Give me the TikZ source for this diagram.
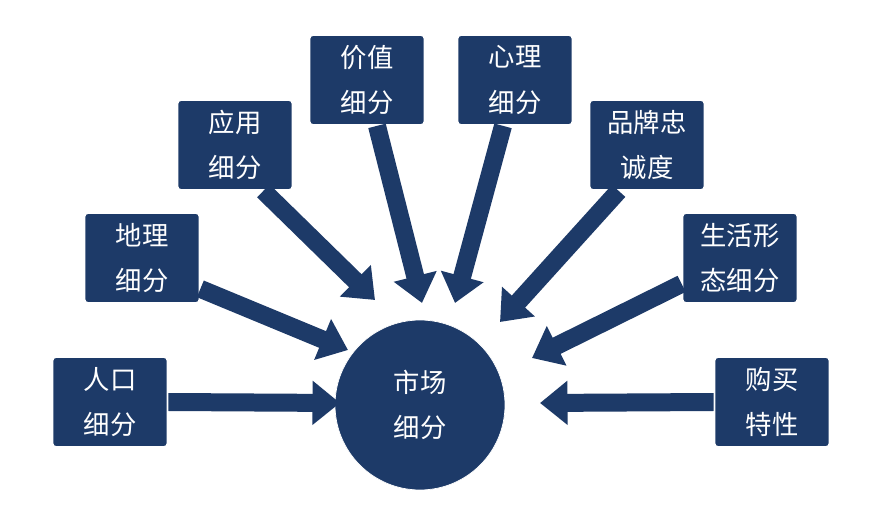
\documentclass[tikz,border=0pt]{standalone}
\usepackage{fontspec}
\newfontfamily\cjk{Noto Sans CJK SC}
\usetikzlibrary{arrows.meta}
\definecolor{navy}{HTML}{1D3A68}
\begin{document}
\begin{tikzpicture}
        [%%%%%%%%%%%%%%%%%%%%%%%%%%%%%%
        x=0.02cm, y=-0.02cm,
        box/.style={draw=white, line width=1pt, fill=navy, rounded corners=2pt,
          minimum width=2.3cm, minimum height=1.8cm, text=white, align=center,
          font=\cjk\fontsize{15}{26}\selectfont},
        hub/.style={circle, fill=navy, draw=white, minimum size=3.4cm, text=white,
          align=center, font=\cjk\fontsize{15}{26}\selectfont},
        fat/.style={draw=navy, line width=0.36cm, -{Triangle[width=0.85cm, length=0.55cm]}},
        ]%%%%%%%%%%%%%%%%%%%%%%%%%%%%%%
        \useasboundingbox[fill=white] (0,0) rectangle (882,506);
        % Centre
        \node[hub] (market) at (420,405) {市场\\细分};
        % Boxes
        \node[box] (people) at (110,402) {人口\\细分};
        \node[box] (geo) at (142,258) {地理\\细分};
        \node[box] (usage) at (235,145) {应用\\细分};
        \node[box] (value) at (367,80) {价值\\细分};
        \node[box] (mind) at (515,80) {心理\\细分};
        \node[box] (brand) at (647,145) {品牌忠\\诚度};
        \node[box] (life) at (740,258) {生活形\\态细分};
        \node[box] (buy) at (772,402) {购买\\特性};
        % Arrows
        \coordinate (tpeople) at (340,403);
        \coordinate (tgeo) at (348,350);
        \coordinate (tusage) at (375,300);
        \coordinate (tvalue) at (422,303);
        \coordinate (tmind) at (455,303);
        \coordinate (tbrand) at (500,322);
        \coordinate (tlife) at (532,358);
        \coordinate (tbuy) at (540,403);
        \draw[fat] (people.east) -- (tpeople);
        \draw[fat] (geo.south east) ++(0,-15) -- (tgeo);
        \draw[fat] (usage.south east) ++(-30,0) -- (tusage);
        \draw[fat] (value.south) ++(10,0) -- (tvalue);
        \draw[fat] (mind.south) ++(-12,0) -- (tmind);
        \draw[fat] (brand.south west) ++(30,0) -- (tbrand);
        \draw[fat] (life.south west) ++(0,-20) -- (tlife);
        \draw[fat] (buy.west) -- (tbuy);
      \end{tikzpicture}
\end{document}
